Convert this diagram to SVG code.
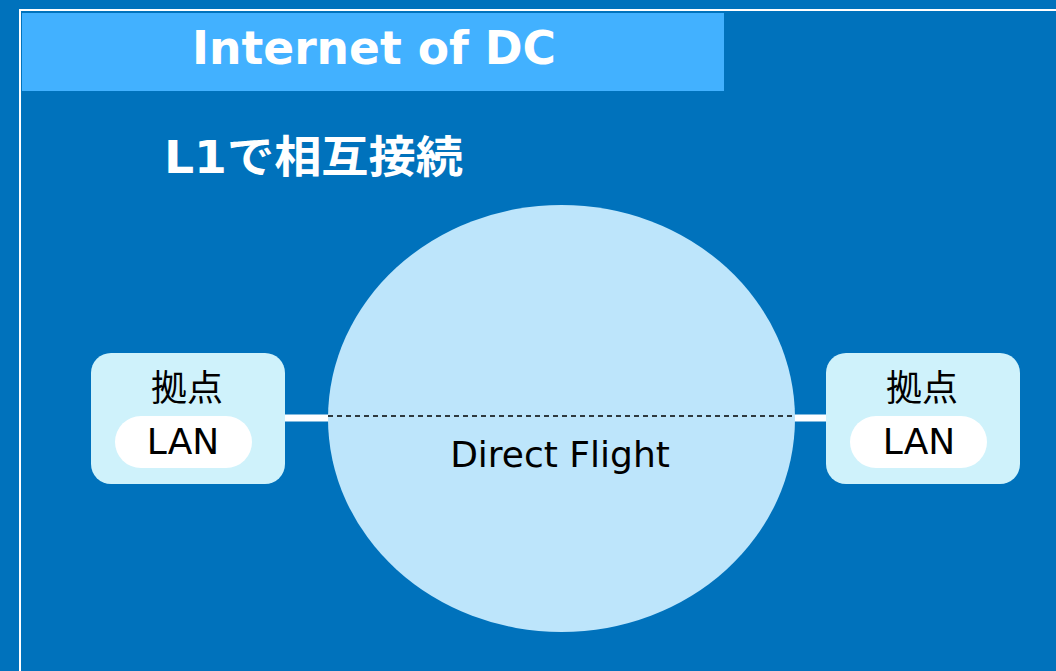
<svg xmlns="http://www.w3.org/2000/svg" width="1056" height="671" viewBox="0 0 1056 671">
<style>
.w{fill:#ffffff;font-family:"DejaVu Sans","Noto Sans CJK JP",sans-serif;font-weight:bold}
.k{fill:#000000;font-family:"DejaVu Sans","Noto Sans CJK JP",sans-serif}
.box{fill:#CFF2FB}
.pill{fill:#ffffff}
</style>
<rect x="0" y="0" width="1056" height="671" fill="#0072BC"/>
<rect x="20" y="10" width="1045" height="670" fill="none" stroke="#ffffff" stroke-width="2"/>
<rect x="22" y="13" width="702" height="78" fill="#42B1FF"/>
<text class="w" x="374" y="64" font-size="46" text-anchor="middle" textLength="364" lengthAdjust="spacingAndGlyphs">Internet of DC</text>
<text class="w" x="164" y="173" font-size="44" textLength="299" lengthAdjust="spacingAndGlyphs">L1で相互接続</text>
<g id="connectors">
<line x1="284" y1="418" x2="330" y2="418" stroke="#ffffff" stroke-width="7"/>
<line x1="792" y1="418" x2="828" y2="418" stroke="#ffffff" stroke-width="7"/>
</g>
<g id="cloud">
<ellipse cx="561.5" cy="418.5" rx="233.5" ry="213.5" fill="#BDE5FB"/>
<line x1="328" y1="416" x2="795" y2="416" stroke="#000000" stroke-width="1.3" stroke-dasharray="5,4"/>
<text class="k" x="560" y="467" font-size="36" text-anchor="middle">Direct Flight</text>
</g>
<g id="siteL">
<rect class="box" x="91" y="353" width="194" height="131" rx="20"/>
<text class="k" x="187" y="401" font-size="36" text-anchor="middle">拠点</text>
<rect class="pill" x="115" y="416" width="137" height="52" rx="26"/>
<text class="k" x="183" y="454" font-size="36" text-anchor="middle">LAN</text>
</g>
<g id="siteR">
<rect class="box" x="826" y="353" width="194" height="131" rx="20"/>
<text class="k" x="922" y="401" font-size="36" text-anchor="middle">拠点</text>
<rect class="pill" x="850" y="416" width="137" height="52" rx="26"/>
<text class="k" x="919" y="454" font-size="36" text-anchor="middle">LAN</text>
</g>
</svg>
